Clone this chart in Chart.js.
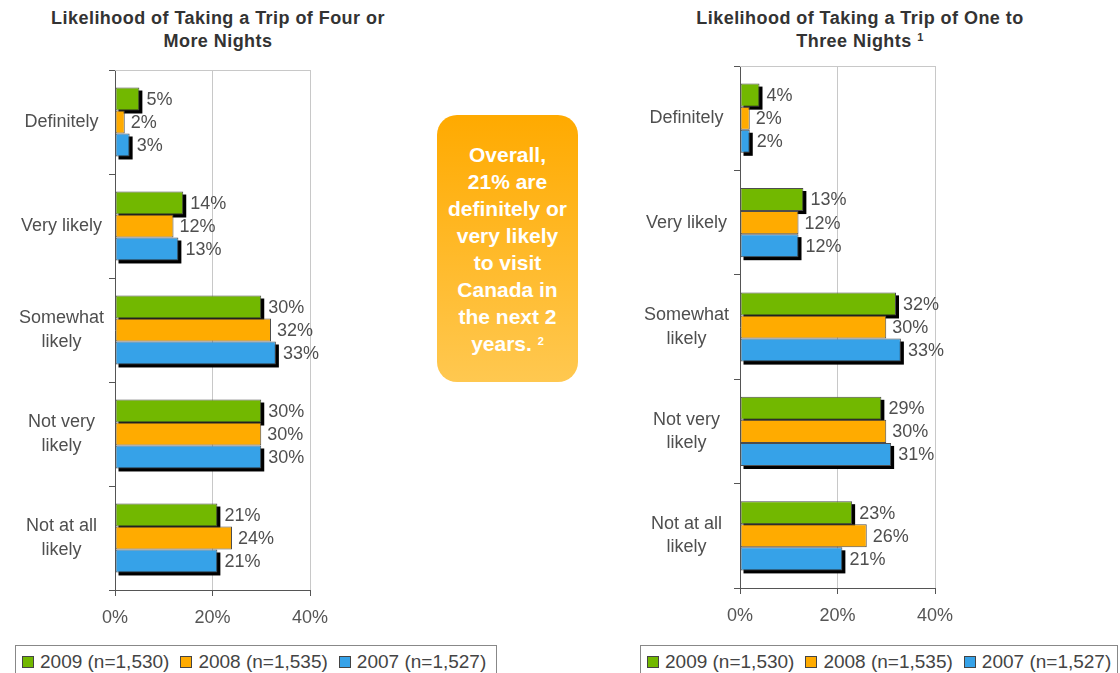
<!DOCTYPE html>
<html lang="en">
<head>
  <meta charset="UTF-8">
  <title>Likelihood of Taking a Trip</title>
  <script src="https://cdn.jsdelivr.net/npm/chart.js"></script>
  <style>
    body {
      margin: 0;
      background: #fff;
      font-family: 'Liberation Sans', Arial, sans-serif;
      width: 1120px;
      height: 673px;
      overflow: hidden;
      position: relative;
    }
    .title {
      position: absolute;
      top: 7px;
      font-size: 18px;
      font-weight: bold;
      line-height: 23px;
      letter-spacing: 0.45px;
      color: #333;
      text-align: center;
    }
    .title sup, .callout sup {
      font-size: 11px;
      vertical-align: 6px;
      line-height: 0;
    }
    .chart-box {
      position: absolute;
      top: 0;
      width: 430px;
      height: 645px;
    }
    .callout {
      position: absolute;
      left: 437px;
      top: 115px;
      width: 141px;
      height: 267px;
      border-radius: 20px;
      background: linear-gradient(to bottom, #ffaa00, #ffc850);
      color: #fff;
      font-weight: bold;
      font-size: 21px;
      line-height: 27px;
      text-align: center;
      display: flex;
      align-items: center;
      justify-content: center;
    }
    .legend {
      position: absolute;
      top: 645px;
      height: 40px;
      border: 1px solid #888;
      box-sizing: border-box;
      padding: 5px 0 0 6px;
      font-size: 19px;
      color: #444;
      white-space: nowrap;
    }
    .legend span.sw {
      display: inline-block;
      width: 10px;
      height: 10px;
      border: 1px solid #444;
      margin-right: 6px;
    }
    .legend span.item {
      margin-right: 11px;
    }
  </style>
</head>
<body>

  <div class="title" style="left:0; width:436px;">Likelihood of Taking a Trip of Four or<br>More Nights</div>
  <div class="title" style="left:640px; width:440px;">Likelihood of Taking a Trip of One to<br>Three Nights <sup>1</sup></div>

  <div class="chart-box" style="left:0;"><canvas id="leftChart" width="430" height="645"></canvas></div>
  <div class="chart-box" style="left:625px;"><canvas id="rightChart" width="430" height="645"></canvas></div>

  <div class="callout"><div>Overall,<br>21% are<br>definitely or<br>very likely<br>to visit<br>Canada in<br>the next 2<br>years. <sup>2</sup></div></div>

  <div class="legend" id="legendLeft" style="left:15px; width:482px;"></div>
  <div class="legend" id="legendRight" style="left:640px; width:478px;"></div>

  <script>
    // data
    const categories = [['Definitely'], ['Very likely'], ['Somewhat', 'likely'], ['Not very', 'likely'], ['Not at all', 'likely']];
    const seriesNames = ['2009 (n=1,530)', '2008 (n=1,535)', '2007 (n=1,527)'];
    const seriesColors = ['#72b800', '#ffab00', '#36a2e8'];

    const fourPlus2009 = [5, 14, 30, 30, 21];
    const fourPlus2008 = [2, 12, 32, 30, 24];
    const fourPlus2007 = [3, 13, 33, 30, 21];

    const oneToThree2009 = [4, 13, 32, 29, 23];
    const oneToThree2008 = [2, 12, 30, 30, 26];
    const oneToThree2007 = [2, 12, 33, 31, 21];

    const xTicks = [0, 20, 40];

    Chart.defaults.font.family = "'Liberation Sans', Arial, sans-serif";

    // black drop shadow behind the green and blue bars
    const shadowPlugin = {
      id: 'barShadow',
      beforeDatasetsDraw(chart) {
        const ctx = chart.ctx;
        ctx.save();
        ctx.fillStyle = '#000';
        chart.data.datasets.forEach((ds, i) => {
          if (!ds.shadow) return;
          chart.getDatasetMeta(i).data.forEach(el => {
            const left = Math.min(el.x, el.base);
            const w = Math.abs(el.x - el.base);
            ctx.fillRect(left + 3, el.y - el.height / 2 + 3, w, el.height);
          });
        });
        ctx.restore();
      }
    };

    // value labels at the end of each bar + light frame on top of plot
    const labelPlugin = {
      id: 'valueLabels',
      afterDatasetsDraw(chart) {
        const ctx = chart.ctx;
        const area = chart.chartArea;
        ctx.save();
        ctx.strokeStyle = '#c8c8c8';
        ctx.lineWidth = 1;
        ctx.beginPath();
        ctx.moveTo(area.left, area.top + 0.5);
        ctx.lineTo(area.right, area.top + 0.5);
        ctx.stroke();

        ctx.font = "18px 'Liberation Sans', Arial, sans-serif";
        ctx.fillStyle = '#4f4f4f';
        ctx.textBaseline = 'middle';
        ctx.textAlign = 'left';
        chart.data.datasets.forEach((ds, i) => {
          chart.getDatasetMeta(i).data.forEach((el, j) => {
            ctx.fillText(ds.data[j] + '%', el.x + (ds.shadow ? 7 : 6), el.y + 1);
          });
        });
        ctx.restore();
      }
    };

    function makeChart(id, values, topPad, bottomH) {
      const datasets = values.map((vals, i) => ({
        label: seriesNames[i],
        data: vals,
        backgroundColor: seriesColors[i],
        borderColor: '#4d4d4d',
        borderWidth: 1,
        borderSkipped: false,
        shadow: i !== 1,
        categoryPercentage: 0.663,
        barPercentage: 1.0
      }));

      return new Chart(document.getElementById(id), {
        type: 'bar',
        data: { labels: categories, datasets: datasets },
        options: {
          indexAxis: 'y',
          responsive: false,
          devicePixelRatio: 1,
          animation: false,
          layout: { padding: { top: topPad, right: 120, left: 0, bottom: 0 } },
          plugins: {
            legend: { display: false },
            tooltip: { enabled: false }
          },
          scales: {
            x: {
              min: 0,
              max: 40,
              afterBuildTicks: scale => { scale.ticks = xTicks.map(v => ({ value: v })); },
              afterFit: scale => { scale.height = bottomH; },
              ticks: {
                callback: v => v + '%',
                color: '#555',
                padding: 11,
                font: { size: 18 }
              },
              grid: {
                color: c => (c.tick && c.tick.value === 0) ? 'rgba(0,0,0,0)' : '#c8c8c8',
                tickColor: '#555',
                tickLength: 6
              },
              border: { color: '#555', width: 1 }
            },
            y: {
              afterFit: scale => { scale.width = 115; },
              ticks: {
                crossAlign: 'center',
                color: '#4f4f4f',
                padding: 5,
                font: { size: 18, lineHeight: 1.3 }
              },
              grid: {
                offset: true,
                drawOnChartArea: false,
                color: '#555',
                tickLength: 6
              },
              border: { color: '#555', width: 1 }
            }
          }
        },
        plugins: [shadowPlugin, labelPlugin]
      });
    }

    makeChart('leftChart', [fourPlus2009, fourPlus2008, fourPlus2007], 70, 55);
    makeChart('rightChart', [oneToThree2009, oneToThree2008, oneToThree2007], 66, 57);

    function buildLegend(id) {
      const box = document.getElementById(id);
      seriesNames.forEach((name, i) => {
        const item = document.createElement('span');
        item.className = 'item';
        const sw = document.createElement('span');
        sw.className = 'sw';
        sw.style.background = seriesColors[i];
        item.appendChild(sw);
        item.appendChild(document.createTextNode(name));
        box.appendChild(item);
      });
    }
    buildLegend('legendLeft');
    buildLegend('legendRight');
  </script>

</body>
</html>
